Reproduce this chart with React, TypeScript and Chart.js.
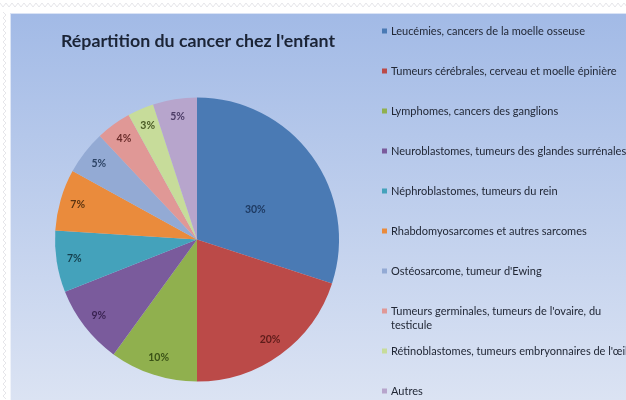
import React, { useEffect, useRef } from "react";
import { Chart, registerables } from "chart.js";

Chart.register(...registerables);

const TITLE = "Répartition du cancer chez l'enfant";

const categories = [
  "Leucémies, cancers de la moelle osseuse",
  "Tumeurs cérébrales, cerveau et moelle épinière",
  "Lymphomes, cancers des ganglions",
  "Neuroblastomes, tumeurs des glandes surrénales",
  "Néphroblastomes, tumeurs du rein",
  "Rhabdomyosarcomes et autres sarcomes",
  "Ostéosarcome, tumeur d'Ewing",
  "Tumeurs germinales, tumeurs de l'ovaire, du\ntesticule",
  "Rétinoblastomes, tumeurs embryonnaires de l'œil",
  "Autres",
];

const values = [30, 20, 10, 9, 7, 7, 5, 4, 3, 5];

const sliceColors = [
  "#4a7ab4",
  "#bb4a48",
  "#90b04e",
  "#7a5b9c",
  "#44a2bb",
  "#ea8b3c",
  "#93aad4",
  "#e09896",
  "#c7dc9a",
  "#b7a5cc",
];

const labelColors = [
  "#1e3a62",
  "#5e1c1a",
  "#3a5216",
  "#3a2352",
  "#143f4d",
  "#5b3410",
  "#2d4466",
  "#6b2d2b",
  "#4a5a25",
  "#4c3c66",
];

const FONT = "Lato, 'Open Sans', sans-serif";

const decorPlugin = {
  id: "decor",
  beforeDraw(chart: any) {
    const ctx = chart.ctx as CanvasRenderingContext2D;
    const W = chart.width;
    const H = chart.height;
    ctx.save();
    ctx.fillStyle = "#ffffff";
    ctx.fillRect(0, 0, W, H);
    ctx.strokeStyle = "#e6e6ea";
    ctx.lineWidth = 1;
    ctx.beginPath();
    for (let x = 0; x <= W; x += 6) {
      ctx.lineTo(x, 3);
      ctx.lineTo(x + 3, 7);
    }
    ctx.stroke();
    ctx.beginPath();
    for (let y = 12; y <= H; y += 6) {
      ctx.lineTo(3, y);
      ctx.lineTo(6, y + 3);
    }
    ctx.stroke();
    const g = ctx.createLinearGradient(0, 13, 0, H);
    g.addColorStop(0, "#a2bae6");
    g.addColorStop(1, "#dbe3f3");
    ctx.fillStyle = g;
    ctx.fillRect(10, 13, W - 10, H - 13);
    ctx.strokeStyle = "rgba(255,255,255,0.6)";
    ctx.strokeRect(10.5, 13.5, W - 10, H - 13);
    ctx.restore();
  },
  afterDatasetsDraw(chart: any) {
    const ctx = chart.ctx as CanvasRenderingContext2D;
    const meta = chart.getDatasetMeta(0);
    ctx.save();
    ctx.font = `bold 10.5px ${FONT}`;
    ctx.textAlign = "center";
    ctx.textBaseline = "middle";
    meta.data.forEach((arc: any, i: number) => {
      const p = arc.getProps(["x", "y", "startAngle", "endAngle", "outerRadius"], true);
      const big = values[i] >= 25;
      const mid = (p.startAngle + p.endAngle) / 2 + (big ? 0.16 : 0);
      const r = p.outerRadius * (big ? 0.46 : 0.875);
      ctx.fillStyle = labelColors[i];
      ctx.fillText(values[i] + "%", p.x + Math.cos(mid) * r, p.y + Math.sin(mid) * r);
    });
    ctx.restore();
  },
  afterDraw(chart: any) {
    const ctx = chart.ctx as CanvasRenderingContext2D;
    ctx.save();
    ctx.fillStyle = "#1b2436";
    ctx.font = `bold 17.8px ${FONT}`;
    ctx.textAlign = "center";
    ctx.textBaseline = "alphabetic";
    ctx.fillText(TITLE, 198, 47);
    ctx.font = `11px ${FONT}`;
    ctx.textAlign = "left";
    ctx.textBaseline = "middle";
    categories.forEach((cat, i) => {
      const y = 31 + 40 * i;
      ctx.fillStyle = sliceColors[i];
      ctx.fillRect(382, y - 2.5, 5, 5);
      ctx.fillStyle = "#222836";
      cat.split("\n").forEach((ln, k) => {
        ctx.fillText(ln, 391, y + k * 14);
      });
    });
    ctx.restore();
  },
};

export default function App() {
  const ref = useRef<HTMLCanvasElement | null>(null);
  useEffect(() => {
    document.body.style.margin = "0";
    const canvas = ref.current!;
    const chart = new Chart(canvas, {
      type: "pie",
      data: {
        labels: categories,
        datasets: [
          {
            data: values,
            backgroundColor: sliceColors,
            borderWidth: 0,
          },
        ],
      },
      options: {
        responsive: false,
        animation: false,
        layout: { padding: { left: 55, right: 287, top: 97, bottom: 18 } },
        plugins: {
          legend: { display: false },
          title: { display: false },
          tooltip: { enabled: false },
        },
      },
      plugins: [decorPlugin],
    });
    return () => chart.destroy();
  }, []);
  return (
    <div style={{ width: 626, height: 400 }}>
      <canvas ref={ref} width={626} height={400} style={{ display: "block" }} />
    </div>
  );
}
